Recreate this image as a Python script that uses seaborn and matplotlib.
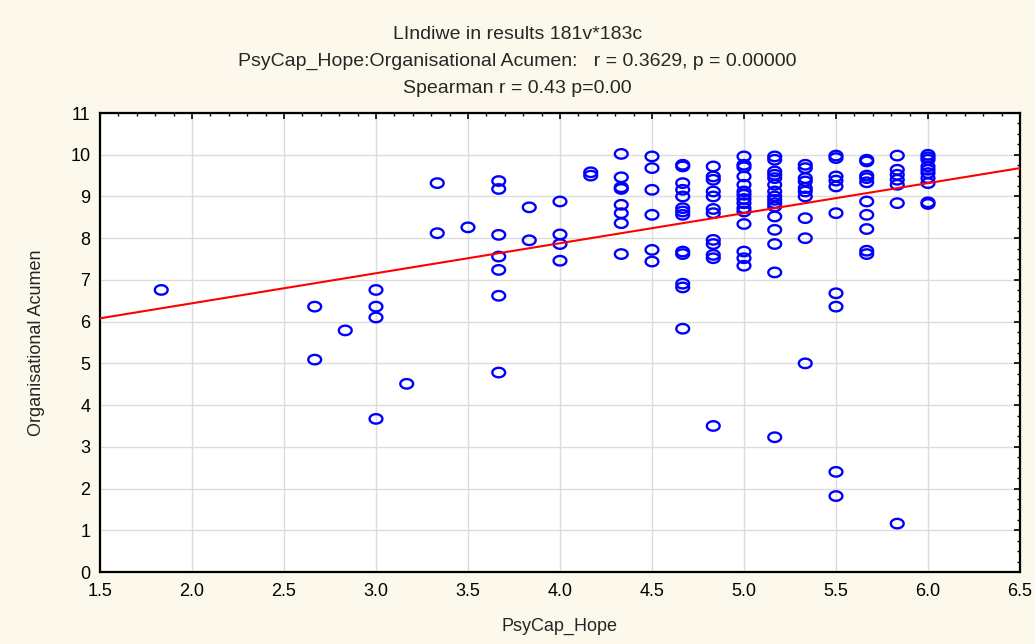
import numpy as np
import pandas as pd
import seaborn as sns
import matplotlib.pyplot as plt
from matplotlib.path import Path
from matplotlib.ticker import MultipleLocator, FormatStrFormatter

# PsyCap_Hope levels (mean of 6 items) and the Organisational Acumen scores read at each level
hope_levels = [1.833, 2.667, 2.833, 3.0, 3.167, 3.333, 3.5, 3.667, 3.833, 4.0, 4.167,
               4.333, 4.5, 4.667, 4.833, 5.0, 5.167, 5.333, 5.5, 5.667, 5.833, 6.0]

acumen_1_833 = [6.76]
acumen_2_667 = [6.36, 5.09]
acumen_2_833 = [5.79]
acumen_3_000 = [6.76, 6.36, 6.10, 3.67]
acumen_3_167 = [4.51]
acumen_3_333 = [9.32, 8.12]
acumen_3_500 = [8.26]
acumen_3_667 = [9.37, 9.18, 8.08, 7.56, 7.24, 6.62, 4.78]
acumen_3_833 = [8.74, 7.95]
acumen_4_000 = [8.88, 8.09, 7.86, 7.46]
acumen_4_167 = [9.58, 9.50]
acumen_4_333 = [10.02, 9.46, 9.22, 9.18, 8.80, 8.60, 8.36, 7.62]
acumen_4_500 = [9.96, 9.68, 9.16, 8.56, 7.72, 7.44]
acumen_4_667 = [9.76, 9.72, 9.32, 9.16, 9.00, 8.72, 8.64, 8.56, 7.68, 7.62, 6.91, 6.82, 5.83]
acumen_4_833 = [9.72, 9.48, 9.40, 9.12, 9.00, 8.70, 8.60, 7.96, 7.86, 7.60, 7.52, 3.50]
acumen_5_000 = [9.96, 9.76, 9.70, 9.48, 9.28, 9.12, 9.04, 8.94, 8.84, 8.72, 8.64, 8.34,
                7.68, 7.52, 7.34]
acumen_5_167 = [9.96, 9.88, 9.60, 9.52, 9.44, 9.28, 9.12, 9.00, 8.92, 8.84, 8.76, 8.52,
                8.20, 7.86, 7.18, 3.23]
acumen_5_333 = [9.76, 9.68, 9.44, 9.36, 9.20, 9.12, 9.00, 8.48, 8.00, 5.00]
acumen_5_500 = [9.98, 9.92, 9.48, 9.38, 9.24, 8.60, 6.68, 6.36, 2.40, 1.82]
acumen_5_667 = [9.88, 9.84, 9.50, 9.44, 9.34, 8.88, 8.56, 8.22, 7.70, 7.62]
acumen_5_833 = [9.98, 9.64, 9.52, 9.40, 9.28, 8.84, 1.16]
acumen_6_000 = [10.00, 9.94, 9.88, 9.72, 9.64, 9.56, 9.44, 9.32, 8.86, 8.82]

acumen_by_level = [acumen_1_833, acumen_2_667, acumen_2_833, acumen_3_000, acumen_3_167,
                   acumen_3_333, acumen_3_500, acumen_3_667, acumen_3_833, acumen_4_000,
                   acumen_4_167, acumen_4_333, acumen_4_500, acumen_4_667, acumen_4_833,
                   acumen_5_000, acumen_5_167, acumen_5_333, acumen_5_500, acumen_5_667,
                   acumen_5_833, acumen_6_000]

# linear fit shown in the chart
fit_intercept = 5.0
fit_slope = 0.72

title_lines = ["LIndiwe in results 181v*183c",
               "PsyCap_Hope:Organisational Acumen:   r = 0.3629, p = 0.00000",
               "Spearman r = 0.43 p=0.00"]

rows = []
for h, ys in zip(hope_levels, acumen_by_level):
    for v in ys:
        rows.append((h, v))
df = pd.DataFrame(rows, columns=["PsyCap_Hope", "Organisational Acumen"])

sns.set_style("whitegrid")
plt.rcParams['font.family'] = ['Liberation Sans', 'DejaVu Sans']

bg = "#fdf8ec"
fig = plt.figure(figsize=(10.35, 6.44), dpi=100, facecolor=bg)
ax = fig.add_axes([0.0966, 0.1118, 0.8889, 0.7127])
ax.set_facecolor("white")

# STATISTICA-like flattened circle marker
t = np.linspace(0, 2 * np.pi, 60)
ellipse = Path(np.column_stack([np.cos(t), 0.74 * np.sin(t)]), closed=True)

sns.scatterplot(data=df, x="PsyCap_Hope", y="Organisational Acumen", ax=ax,
                marker=ellipse, s=85, facecolors="none", edgecolor="#0000ff",
                linewidth=1.7, zorder=3)

ax.axline((0, fit_intercept), slope=fit_slope, color="#ff0000", lw=1.5, zorder=4)

ax.set_xlim(1.5, 6.5)
ax.set_ylim(0, 11)
ax.xaxis.set_major_locator(MultipleLocator(0.5))
ax.xaxis.set_minor_locator(MultipleLocator(0.1))
ax.xaxis.set_major_formatter(FormatStrFormatter("%.1f"))
ax.yaxis.set_major_locator(MultipleLocator(1))
ax.yaxis.set_minor_locator(MultipleLocator(0.25))

ax.grid(True, which="major", color="#dcdcdc", lw=1)
ax.grid(False, which="minor")
ax.tick_params(which="both", direction="in", top=True, right=True, colors="black",
               labelsize=13)
ax.tick_params(which="major", length=4, width=1.2)
ax.tick_params(which="minor", length=2.5, width=1)
ax.tick_params(axis="x", pad=8)
ax.tick_params(axis="y", pad=7)
for sp in ax.spines.values():
    sp.set_color("black")
    sp.set_linewidth(1.6)

ax.set_xlabel("PsyCap_Hope", fontsize=13, labelpad=13)
ax.set_ylabel("Organisational Acumen", fontsize=13, labelpad=18)

for txt, yy in zip(title_lines, [0.947, 0.905, 0.863]):
    fig.text(0.5, yy, txt, ha="center", va="center", fontsize=14)

fig.savefig("out.png", dpi=100, facecolor=bg)
